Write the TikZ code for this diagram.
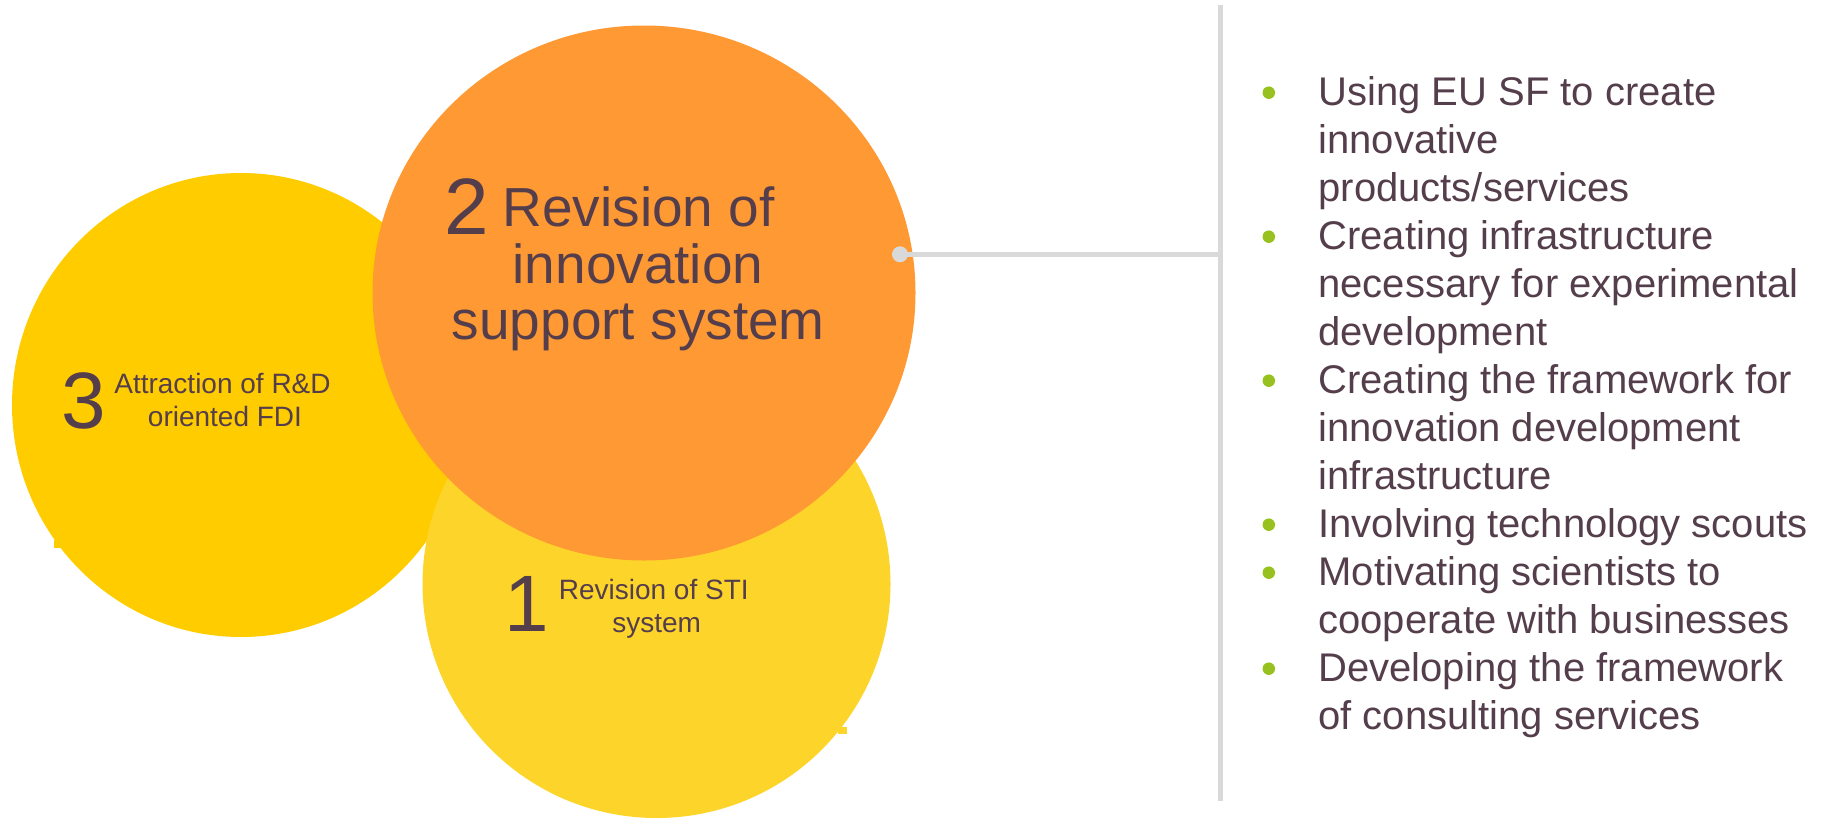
\documentclass[tikz,border=0pt]{standalone}
\usepackage{fontspec}
\setmainfont{Liberation Sans}
\usetikzlibrary{shapes.geometric}
\definecolor{tcol}{HTML}{553E4B}
\definecolor{orangec}{HTML}{FF9933}
\definecolor{yelA}{HTML}{FFCC00}
\definecolor{yelB}{HTML}{FDD52A}
\definecolor{bulc}{HTML}{97C11F}
\definecolor{grayl}{HTML}{D9D9D9}
\begin{document}
\begin{tikzpicture}[x=1pt,y=-1pt,
  txt/.style={anchor=base, inner sep=0pt, text=tcol},
  digit/.style={anchor=base west, inner sep=0pt, text=tcol, font=\fontsize{80}{80}\selectfont},
  bigtxt/.style={txt, font=\fontsize{55}{55}\selectfont},
  smalltxt/.style={txt, font=\fontsize{28}{28}\selectfont},
  listtxt/.style={anchor=base west, inner sep=0pt, text=tcol, font=\fontsize{40}{48}\selectfont},
  bul/.style={circle, fill=bulc, minimum size=12.5pt, inner sep=0pt},
  conn/.style={draw=grayl, line width=5.5pt}]
\useasboundingbox (0,0) rectangle (1826,819);
% circles
\node[ellipse, fill=yelA, inner sep=0pt, minimum width=458pt, minimum height=464pt] (c3) at (241,405) {};
\fill[yelA] (54,540) rectangle (62,548.3);
\node[circle, fill=yelB, inner sep=0pt, minimum size=468pt] (c1) at (656.5,584) {};
\fill[yelB] (838,726.7) rectangle (846.7,734.3);
\node[ellipse, fill=orangec, inner sep=0pt, minimum width=543pt, minimum height=535pt] (c2) at (644,293) {};
% circle 2 text
\node[digit] (d2) at (444,234) {2};
\node[bigtxt] (t2a) at (638.6,226) {Revision of};
\node[bigtxt] (t2b) at (638,283) {innovation};
\node[bigtxt] (t2c) at (638.3,339) {support system};
% circle 3 text
\node[digit] (d3) at (61.4,428.3) {3};
\node[smalltxt] (t3a) at (222.5,393.3) {Attraction of R\&D};
\node[smalltxt] (t3b) at (225,426.7) {oriented FDI};
% circle 1 text
\node[digit] (d1) at (504,631.7) {1};
\node[smalltxt] (t1a) at (653.8,599.3) {Revision of STI};
\node[smalltxt] (t1b) at (656.7,632.7) {system};
% connector
\coordinate (vtop) at (1220.5,5);
\coordinate (vbot) at (1220.5,800.7);
\draw[conn] (vtop) -- (vbot);
\node[circle, fill=grayl, inner sep=0pt, minimum size=16pt] (dot) at (900,254.3) {};
\draw[conn] (dot.center) -- (dot.center -| vtop);
% list
\foreach \t [count=\i from 0] in {Using EU SF to create, innovative, products/services,
  Creating infrastructure, necessary for experimental, development,
  Creating the framework for, innovation development, infrastructure,
  Involving technology scouts, Motivating scientists to, cooperate with businesses,
  Developing the framework, of consulting services}
  {\node[listtxt] (l\i) at (1318.3,105+48*\i) {\t};}
\foreach \k in {0,3,6,9,10,12}
  {\node[bul] (b\k) at (1268.8,92.7+48*\k) {};}
\end{tikzpicture}
\end{document}
